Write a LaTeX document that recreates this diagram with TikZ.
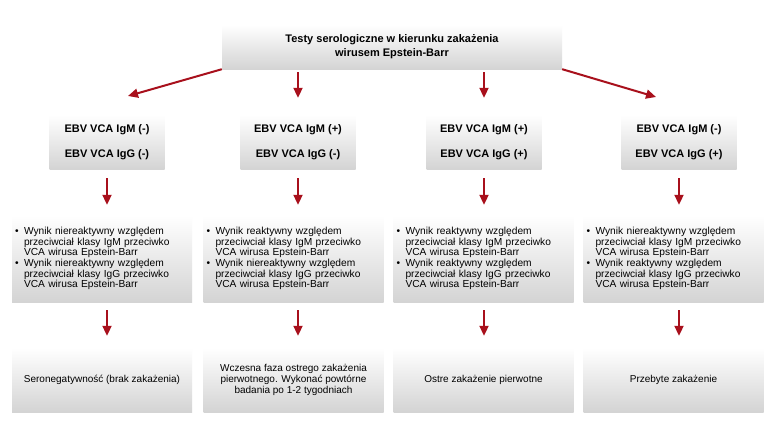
\documentclass[tikz,border=0pt]{standalone}
\usepackage{fontspec}
\setmainfont{Liberation Sans}
\usetikzlibrary{arrows.meta}
\definecolor{arr}{RGB}{168,16,28}
\newcommand{\reslist}[6]{\fontsize{10.2}{10.7}\selectfont\begin{tabular}{@{}l@{\hspace{5.5pt}}l@{}}%
\textbullet & #1\\ & #2\\ & #3\\ \textbullet & #4\\ & #5\\ & #6\end{tabular}}
\tikzset{
 box/.style={rectangle, inner sep=0pt, top color=white, bottom color=gray!34, draw=none},
 topbox/.style={box, minimum width=340pt, minimum height=44pt, align=center, font=\bfseries\fontsize{11}{14}\selectfont},
 testbox/.style={box, minimum width=115pt, minimum height=54pt, align=center, font=\bfseries\fontsize{11}{13}\selectfont},
 resbox/.style={box, minimum width=180pt, minimum height=86pt, text width=174pt, inner xsep=3pt, align=left},
 outbox/.style={box, minimum width=180pt, minimum height=64pt, align=center, font=\fontsize{10}{11}\selectfont},
 arrow/.style={draw=arr, line width=2pt, -{Triangle[length=10pt,width=9pt]}},
}
\begin{document}
\begin{tikzpicture}[x=1pt,y=-1pt]
\fill[white] (0,0) rectangle (776,421);
\useasboundingbox (0,0) rectangle (776,421);

\node[topbox] (top) at (392,47) {Testy serologiczne w kierunku zakażenia\\wirusem Epstein-Barr};

\node[testbox] (e1) at (107,142) {EBV VCA IgM (-)\\[12pt]EBV VCA IgG (-)};
\node[testbox] (e2) at (298,142) {EBV VCA IgM (+)\\[12pt]EBV VCA IgG (-)};
\node[testbox] (e3) at (484,142) {EBV VCA IgM (+)\\[12pt]EBV VCA IgG (+)};
\node[testbox] (e4) at (679,142) {EBV VCA IgM (-)\\[12pt]EBV VCA IgG (+)};

\node[resbox] (r1) at (102,259) {\reslist{Wynik niereaktywny względem}{przeciwciał klasy IgM przeciwko}{VCA wirusa Epstein-Barr}{Wynik niereaktywny względem}{przeciwciał klasy IgG przeciwko}{VCA wirusa Epstein-Barr}};
\node[resbox] (r2) at (293.5,259) {\reslist{Wynik reaktywny względem}{przeciwciał klasy IgM przeciwko}{VCA wirusa Epstein-Barr}{Wynik niereaktywny względem}{przeciwciał klasy IgG przeciwko}{VCA wirusa Epstein-Barr}};
\node[resbox] (r3) at (483.5,259) {\reslist{Wynik reaktywny względem}{przeciwciał klasy IgM przeciwko}{VCA wirusa Epstein-Barr}{Wynik reaktywny względem}{przeciwciał klasy IgG przeciwko}{VCA wirusa Epstein-Barr}};
\node[resbox] (r4) at (673.5,259) {\reslist{Wynik niereaktywny względem}{przeciwciał klasy IgM przeciwko}{VCA wirusa Epstein-Barr}{Wynik reaktywny względem}{przeciwciał klasy IgG przeciwko}{VCA wirusa Epstein-Barr}};

\node[outbox] (o1) at (102,380) {Seronegatywność (brak zakażenia)};
\node[outbox] (o2) at (293.5,380) {Wczesna faza ostrego zakażenia\\pierwotnego. Wykonać powtórne\\badania po 1-2 tygodniach};
\node[outbox] (o3) at (483.5,380) {Ostre zakażenie pierwotne};
\node[outbox] (o4) at (673.5,380) {Przebyte zakażenie};

\coordinate (tl) at (128,96);
\coordinate (tr) at (656,97);
\draw[arrow] (top.south west) -- (tl);
\draw[arrow] (top.south east) -- (tr);
\draw[arrow, shorten <=3pt, shorten >=17pt] (top.south -| e2.north) -- (e2.north);
\draw[arrow, shorten <=3pt, shorten >=17pt] (top.south -| e3.north) -- (e3.north);

\foreach \i in {1,2,3,4}{
  \draw[arrow, shorten <=9pt, shorten >=11pt] (e\i.south) -- (e\i.south |- r\i.north);
  \draw[arrow, shorten <=8pt, shorten >=12pt] (r\i.south -| e\i.south) -- (o\i.north -| e\i.south);
}
\end{tikzpicture}
\end{document}
